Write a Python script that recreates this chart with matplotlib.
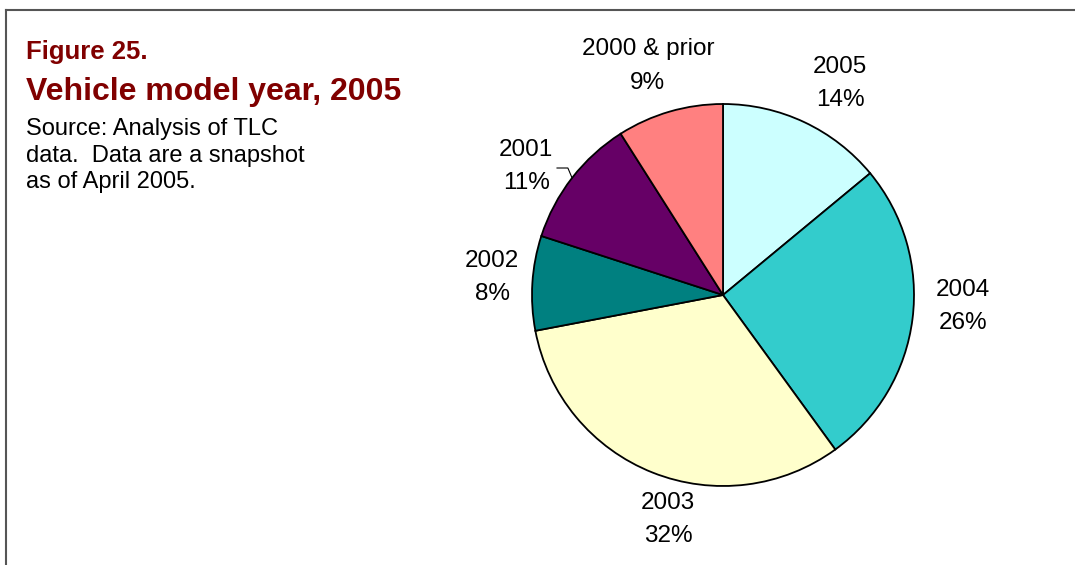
import numpy as np
import matplotlib.pyplot as plt
from matplotlib.lines import Line2D

plt.rcParams['font.family'] = ['Liberation Sans', 'DejaVu Sans']

# model year shares (%), clockwise from 12 o'clock
years = ['2005', '2004', '2003', '2002', '2001', '2000 & prior']
shares = [14, 26, 32, 8, 11, 9]
colors = ['#CCFFFF', '#33CCCC', '#FFFFCC', '#008080', '#660066', '#FF8080']

# where each label sits (pie radius = 1)
label_xy = [(0.613, 1.105), (1.257, -0.058), (-0.288, -1.173),
            (-1.209, 0.094), (-1.031, 0.675), (-0.393, 1.199)]

W, H = 1075, 565
fig = plt.figure(figsize=(W / 100, H / 100), dpi=100)

# pie centre (723, 295) px, radius 191 px
cx, cy, r = 723, 295, 191
ax = fig.add_axes([(cx - r) / W, (H - cy - r) / H, 2 * r / W, 2 * r / H])
ax.pie(shares, colors=colors, startangle=90, counterclock=False, radius=1,
       wedgeprops=dict(edgecolor='black', linewidth=1.3))
ax.set_xlim(-1, 1)
ax.set_ylim(-1, 1)
ax.set_aspect('equal')
ax.axis('off')

for name, v, (x, y) in zip(years, shares, label_xy):
    ax.text(x, y, f'{name}\n{v}%', ha='center', va='center', fontsize=17.5,
            linespacing=1.65, clip_on=False)

# small elbow leader for 2001
cum = np.cumsum([0] + shares)
i = years.index('2001')
mid = np.deg2rad(90 - 3.6 * (cum[i] + cum[i + 1]) / 2)
ex, ey = np.cos(mid), np.sin(mid)
ax.add_line(Line2D([-0.869, ex - 0.022, ex], [ey + 0.052, ey + 0.052, ey],
                   color='black', lw=0.8, clip_on=False))

# frame
fig.add_artist(Line2D([6 / W, 6 / W], [0, 1 - 10 / H], color='#555555', lw=1.5))
fig.add_artist(Line2D([6 / W, 1], [1 - 10 / H, 1 - 10 / H], color='#555555', lw=1.5))

red = '#800000'
fig.text(26 / W, 1 - 59 / H, 'Figure 25.', color=red, fontsize=18.5,
         fontweight='bold', va='baseline')
fig.text(26 / W, 1 - 100 / H, 'Vehicle model year, 2005', color=red, fontsize=23,
         fontweight='bold', va='baseline')
# multi-line baseline aligns on the last line
fig.text(26 / W, 1 - 188 / H,
         'Source: Analysis of TLC\ndata.  Data are a snapshot\nas of April 2005.',
         fontsize=17, va='baseline', linespacing=1.25)

fig.savefig('out.png', dpi=100)
